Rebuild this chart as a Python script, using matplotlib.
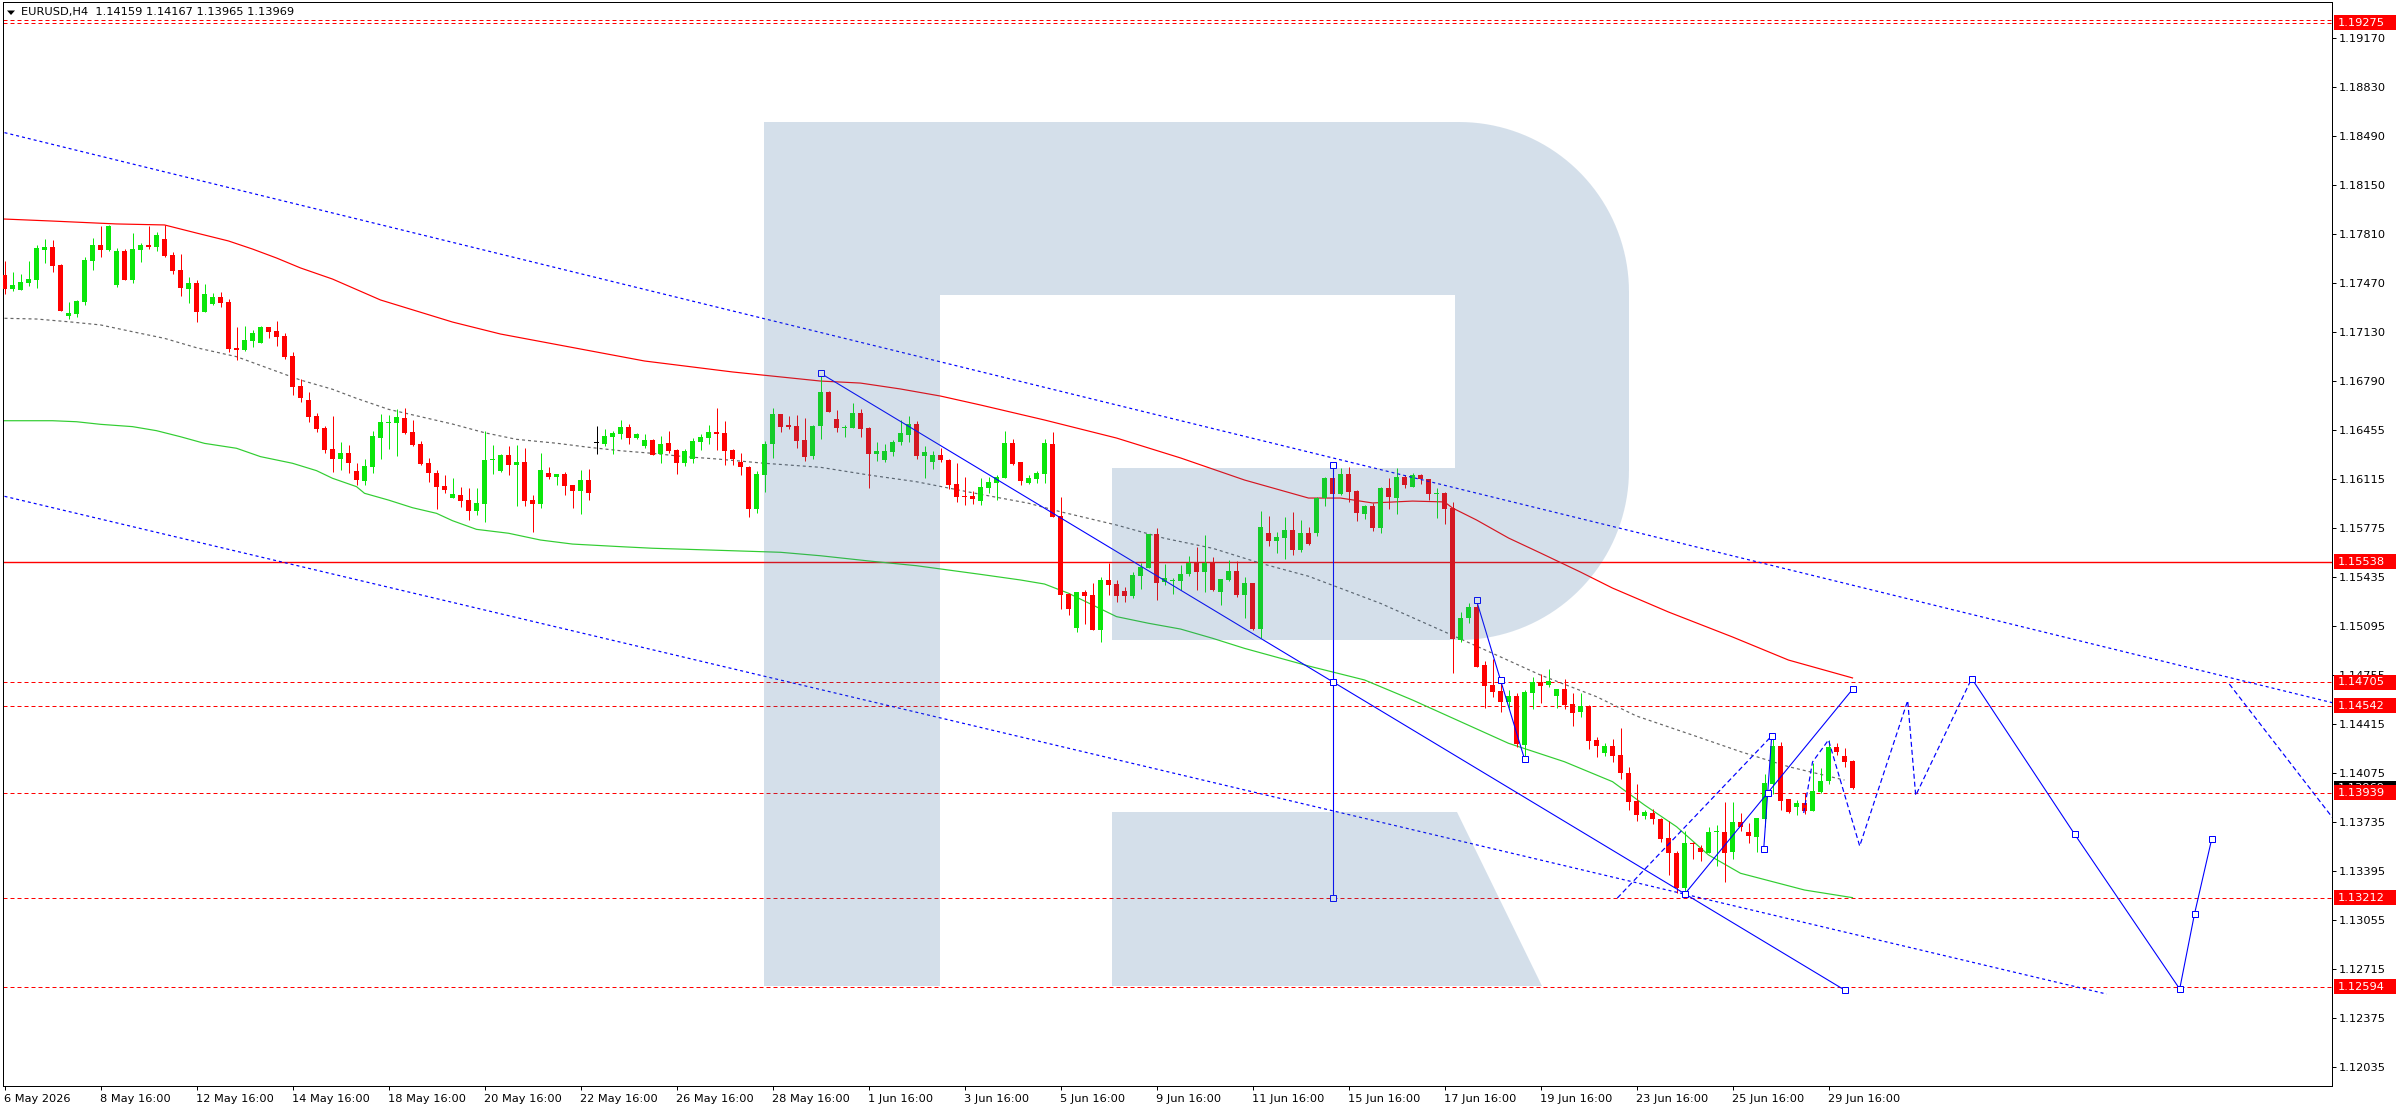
"""
EURUSD H4 chart with moving averages, channel, levels and a forecast path,
drawn in the MetaTrader look (price scale on the right, logo watermark).
"""
import matplotlib

matplotlib.use("Agg")
import matplotlib.pyplot as plt
import numpy as np
from matplotlib.patches import Polygon, Rectangle
from matplotlib.transforms import blended_transform_factory

W, H, DPI = 2396, 1110, 100
PX = 72.0 / DPI  # one pixel in points

plt.rcParams["font.family"] = ["DejaVu Sans"]
plt.rcParams["lines.scale_dashes"] = False

# ---------------------------------------------------------------- candles
opens = [
    1.17527, 1.17430, 1.17425, 1.17472, 1.17495, 1.17700, 1.17721, 1.17596, 1.17245, 1.17259,
    1.17342, 1.17624, 1.17735, 1.17700, 1.17458, 1.17693, 1.17492, 1.17700, 1.17735, 1.17721,
    1.17777, 1.17666, 1.17562, 1.17430, 1.17472, 1.17273, 1.17328, 1.17375, 1.17340, 1.17023,
    1.17010, 1.17072, 1.17058, 1.17167, 1.17139, 1.17106, 1.16968, 1.16760, 1.16661, 1.16550,
    1.16469, 1.16321, 1.16252, 1.16294, 1.16169, 1.16102, 1.16197, 1.16398, 1.16504, 1.16502,
    1.16536, 1.16439, 1.16356, 1.16224, 1.16155, 1.16065, 1.15984, 1.16003, 1.15968, 1.15894,
    1.15943, 1.16245, 1.16169, 1.16280, 1.16210, 1.16231, 1.15968, 1.15943, 1.16155, 1.16130,
    1.16148, 1.16072, 1.16032, 1.16106, 1.16363, 1.16358, 1.16407, 1.16428, 1.16474, 1.16400,
    1.16344, 1.16383, 1.16289, 1.16363, 1.16314, 1.16226, 1.16254, 1.16372, 1.16400, 1.16439,
    1.16432, 1.16316, 1.16231, 1.16198, 1.15908, 1.16143, 1.16358, 1.16564, 1.16487, 1.16480,
    1.16383, 1.16275, 1.16483, 1.16716, 1.16529, 1.16469, 1.16469, 1.16571, 1.16466, 1.16289,
    1.16247, 1.16303, 1.16372, 1.16420, 1.16494, 1.16275, 1.16233, 1.16280, 1.16245, 1.16078,
    1.15995, 1.15995, 1.15963, 1.16053, 1.16085, 1.16122, 1.16363, 1.16231, 1.16085, 1.16113,
    1.16150, 1.16356, 1.15857, 1.15316, 1.15080, 1.15330, 1.15309, 1.15066, 1.15413, 1.15385,
    1.15337, 1.15302, 1.15441, 1.15496, 1.15732, 1.15399, 1.15406, 1.15406, 1.15454, 1.15531,
    1.15468, 1.15531, 1.15330, 1.15413, 1.15475, 1.15309, 1.15392, 1.15073, 1.15739, 1.15683,
    1.15704, 1.15759, 1.15621, 1.15739, 1.15736, 1.15979, 1.16120, 1.16009, 1.16148, 1.16027,
    1.15873, 1.15926, 1.15776, 1.16050, 1.15984, 1.16125, 1.16060, 1.16141, 1.16113, 1.16011,
    1.16016, 1.15910, 1.14997, 1.15147, 1.15228, 1.14824, 1.14685, 1.14643, 1.14569, 1.14609,
    1.14269, 1.14632, 1.14703, 1.14683, 1.14611, 1.14657, 1.14553, 1.14500, 1.14539, 1.14304,
    1.14211, 1.14262, 1.14200, 1.14077, 1.13883, 1.13779, 1.13795, 1.13756, 1.13624, 1.13518,
    1.13280, 1.13592, 1.13552, 1.13522, 1.13663, 1.13666, 1.13529, 1.13733, 1.13666, 1.13633,
    1.13759, 1.14001, 1.14262, 1.13892, 1.13841, 1.13864, 1.13814, 1.13945, 1.14017, 1.14253,
    1.14193, 1.14159,
]
highs = [
    1.17624, 1.17550, 1.17534, 1.17624, 1.17735, 1.17777, 1.17770, 1.17603, 1.17342, 1.17354,
    1.17654, 1.17786, 1.17867, 1.17874, 1.17717, 1.17707, 1.17816, 1.17747, 1.17867, 1.17823,
    1.17871, 1.17687, 1.17673, 1.17511, 1.17492, 1.17465, 1.17400, 1.17409, 1.17361, 1.17169,
    1.17174, 1.17146, 1.17176, 1.17169, 1.17208, 1.17122, 1.16993, 1.16804, 1.16714, 1.16568,
    1.16481, 1.16550, 1.16370, 1.16349, 1.16224, 1.16252, 1.16446, 1.16564, 1.16557, 1.16599,
    1.16606, 1.16522, 1.16377, 1.16259, 1.16176, 1.16141, 1.16120, 1.16058, 1.16051, 1.16051,
    1.16446, 1.16349, 1.16287, 1.16342, 1.16349, 1.16328, 1.16003, 1.16294, 1.16197, 1.16148,
    1.16162, 1.16072, 1.16176, 1.16183, 1.16481, 1.16460, 1.16446, 1.16522, 1.16495, 1.16432,
    1.16425, 1.16390, 1.16411, 1.16446, 1.16321, 1.16321, 1.16397, 1.16425, 1.16487, 1.16605,
    1.16515, 1.16321, 1.16293, 1.16203, 1.16169, 1.16377, 1.16605, 1.16564, 1.16550, 1.16557,
    1.16536, 1.16487, 1.16846, 1.16723, 1.16591, 1.16487, 1.16640, 1.16598, 1.16474, 1.16370,
    1.16356, 1.16383, 1.16522, 1.16550, 1.16515, 1.16342, 1.16307, 1.16328, 1.16252, 1.16224,
    1.16127, 1.16030, 1.16120, 1.16127, 1.16141, 1.16446, 1.16390, 1.16231, 1.16141, 1.16168,
    1.16390, 1.16439, 1.15988, 1.15323, 1.15330, 1.15344, 1.15392, 1.15434, 1.15533, 1.15413,
    1.15364, 1.15468, 1.15531, 1.15732, 1.15773, 1.15524, 1.15427, 1.15517, 1.15579, 1.15642,
    1.15725, 1.15572, 1.15420, 1.15552, 1.15545, 1.15434, 1.15392, 1.15891, 1.15857, 1.15746,
    1.15850, 1.15884, 1.15829, 1.15780, 1.15991, 1.16129, 1.16210, 1.16187, 1.16194, 1.16037,
    1.15933, 1.15944, 1.16060, 1.16118, 1.16187, 1.16141, 1.16152, 1.16148, 1.16115, 1.16048,
    1.16025, 1.15956, 1.15193, 1.15251, 1.15274, 1.14849, 1.14868, 1.14724, 1.14650, 1.14627,
    1.14650, 1.14738, 1.14759, 1.14796, 1.14660, 1.14727, 1.14627, 1.14627, 1.14544, 1.14327,
    1.14281, 1.14310, 1.14389, 1.14119, 1.13996, 1.13818, 1.13825, 1.13760, 1.13742, 1.13534,
    1.13675, 1.13599, 1.13576, 1.13703, 1.13717, 1.13871, 1.13871, 1.13795, 1.13726, 1.13763,
    1.14068, 1.14336, 1.14292, 1.13894, 1.13888, 1.13934, 1.14142, 1.14109, 1.14303, 1.14280,
    1.14246, 1.14167,
]
lows = [
    1.17395, 1.17418, 1.17423, 1.17451, 1.17440, 1.17613, 1.17550, 1.17280, 1.17220, 1.17234,
    1.17319, 1.17562, 1.17654, 1.17696, 1.17446, 1.17492, 1.17474, 1.17620, 1.17707, 1.17693,
    1.17654, 1.17534, 1.17382, 1.17335, 1.17203, 1.17268, 1.17319, 1.17308, 1.16996, 1.16940,
    1.17003, 1.17030, 1.17058, 1.17088, 1.17037, 1.16947, 1.16698, 1.16649, 1.16510, 1.16437,
    1.16296, 1.16164, 1.16176, 1.16157, 1.16072, 1.16072, 1.16157, 1.16252, 1.16321, 1.16273,
    1.16425, 1.16342, 1.16210, 1.16095, 1.15908, 1.16019, 1.15984, 1.15922, 1.15829, 1.15864,
    1.15818, 1.16150, 1.16164, 1.16143, 1.15929, 1.15924, 1.15748, 1.15915, 1.16116, 1.16072,
    1.16003, 1.15915, 1.15873, 1.15970, 1.16289, 1.16344, 1.16289, 1.16393, 1.16358, 1.16393,
    1.16331, 1.16282, 1.16226, 1.16296, 1.16150, 1.16205, 1.16226, 1.16316, 1.16358, 1.16316,
    1.16212, 1.16212, 1.16143, 1.15852, 1.15880, 1.16025, 1.16261, 1.16441, 1.16462, 1.16331,
    1.16240, 1.16254, 1.16390, 1.16580, 1.16441, 1.16407, 1.16469, 1.16407, 1.16053, 1.16240,
    1.16233, 1.16275, 1.16349, 1.16372, 1.16254, 1.16122, 1.16185, 1.16233, 1.16042, 1.15956,
    1.15935, 1.15942, 1.15935, 1.16018, 1.15967, 1.16122, 1.16210, 1.16071, 1.16078, 1.16085,
    1.16085, 1.15850, 1.15212, 1.15170, 1.15052, 1.15108, 1.15066, 1.14983, 1.15309, 1.15260,
    1.15260, 1.15288, 1.15353, 1.15496, 1.15274, 1.15378, 1.15316, 1.15344, 1.15441, 1.15344,
    1.15330, 1.15337, 1.15240, 1.15406, 1.15295, 1.15149, 1.15066, 1.15010, 1.15649, 1.15602,
    1.15561, 1.15586, 1.15609, 1.15657, 1.15718, 1.15926, 1.15979, 1.16002, 1.15956, 1.15824,
    1.15833, 1.15750, 1.15736, 1.15903, 1.15868, 1.16048, 1.16055, 1.16076, 1.15967, 1.15845,
    1.15801, 1.14770, 1.14985, 1.15117, 1.14812, 1.14523, 1.14604, 1.14500, 1.14523, 1.14257,
    1.14177, 1.14516, 1.14558, 1.14673, 1.14528, 1.14516, 1.14401, 1.14465, 1.14241, 1.14183,
    1.14193, 1.14149, 1.14031, 1.13818, 1.13740, 1.13754, 1.13719, 1.13599, 1.13368, 1.13241,
    1.13241, 1.13481, 1.13467, 1.13522, 1.13432, 1.13321, 1.13481, 1.13675, 1.13592, 1.13527,
    1.13703, 1.13927, 1.13818, 1.13800, 1.13784, 1.13788, 1.13811, 1.13934, 1.13996, 1.14202,
    1.14114, 1.13965,
]
closes = [
    1.17430, 1.17458, 1.17479, 1.17499, 1.17714, 1.17721, 1.17591, 1.17280, 1.17264, 1.17347,
    1.17631, 1.17735, 1.17700, 1.17867, 1.17693, 1.17492, 1.17707, 1.17735, 1.17724, 1.17804,
    1.17661, 1.17555, 1.17440, 1.17472, 1.17273, 1.17395, 1.17375, 1.17335, 1.17016, 1.17010,
    1.17077, 1.17125, 1.17167, 1.17134, 1.17099, 1.16961, 1.16753, 1.16677, 1.16545, 1.16460,
    1.16314, 1.16252, 1.16294, 1.16227, 1.16106, 1.16204, 1.16411, 1.16508, 1.16508, 1.16543,
    1.16432, 1.16349, 1.16217, 1.16157, 1.16060, 1.16039, 1.16009, 1.15963, 1.15894, 1.15947,
    1.16245, 1.16252, 1.16280, 1.16210, 1.16231, 1.15963, 1.15943, 1.16176, 1.16130, 1.16148,
    1.16067, 1.16032, 1.16106, 1.16019, 1.16363, 1.16411, 1.16432, 1.16474, 1.16400, 1.16425,
    1.16384, 1.16282, 1.16356, 1.16309, 1.16226, 1.16307, 1.16377, 1.16404, 1.16439, 1.16427,
    1.16309, 1.16252, 1.16198, 1.15908, 1.16148, 1.16356, 1.16564, 1.16476, 1.16476, 1.16379,
    1.16268, 1.16480, 1.16716, 1.16580, 1.16469, 1.16474, 1.16571, 1.16462, 1.16289, 1.16307,
    1.16307, 1.16370, 1.16432, 1.16494, 1.16275, 1.16300, 1.16280, 1.16247, 1.16074, 1.15991,
    1.15991, 1.15977, 1.16058, 1.16092, 1.16127, 1.16363, 1.16217, 1.16099, 1.16120, 1.16155,
    1.16363, 1.15850, 1.15309, 1.15212, 1.15330, 1.15302, 1.15066, 1.15413, 1.15378, 1.15302,
    1.15302, 1.15447, 1.15503, 1.15732, 1.15392, 1.15427, 1.15413, 1.15454, 1.15531, 1.15468,
    1.15531, 1.15344, 1.15420, 1.15475, 1.15309, 1.15392, 1.15073, 1.15780, 1.15683, 1.15711,
    1.15759, 1.15621, 1.15739, 1.15662, 1.15979, 1.16120, 1.16007, 1.16148, 1.16025, 1.15875,
    1.15926, 1.15776, 1.16050, 1.15986, 1.16125, 1.16074, 1.16141, 1.16115, 1.16007, 1.16016,
    1.15907, 1.15001, 1.15147, 1.15228, 1.14812, 1.14680, 1.14639, 1.14565, 1.14609, 1.14276,
    1.14634, 1.14703, 1.14680, 1.14713, 1.14657, 1.14546, 1.14493, 1.14539, 1.14299, 1.14262,
    1.14262, 1.14195, 1.14073, 1.13876, 1.13784, 1.13807, 1.13754, 1.13620, 1.13518, 1.13280,
    1.13592, 1.13583, 1.13525, 1.13666, 1.13670, 1.13522, 1.13733, 1.13698, 1.13640, 1.13763,
    1.14005, 1.14262, 1.13883, 1.13807, 1.13864, 1.13814, 1.13950, 1.14019, 1.14253, 1.14220,
    1.14153, 1.13969,
]

# ---------------------------------------------------------- moving averages
red_ma_bars = [0, 6, 14, 20, 24, 28, 31, 34, 37, 41, 47, 56, 62, 80, 91, 102, 107, 112, 117,
               122, 130, 139, 147, 155, 163, 167, 171, 176, 180, 181, 184, 188, 192, 197, 201,
               208, 216, 223, 231]
red_ma = [1.17915, 1.17901, 1.17881, 1.17874, 1.17818, 1.17763, 1.17707, 1.17645, 1.17576,
          1.17499, 1.17354, 1.17201, 1.17118, 1.16931, 1.16855, 1.16792, 1.16778, 1.16737,
          1.16688, 1.16626, 1.16522, 1.16397, 1.16259, 1.16106, 1.15981, 1.15981, 1.15947,
          1.15960, 1.15954, 1.15912, 1.15829, 1.15704, 1.15600, 1.15468, 1.15357, 1.15191,
          1.15018, 1.14858, 1.14734]

green_ma_bars = [0, 6, 9, 12, 16, 19, 22, 25, 29, 32, 36, 39, 41, 44, 45, 48, 51, 54, 56, 59,
                 63, 67, 71, 77, 81, 88, 97, 102, 108, 114, 122, 127, 130, 133, 136, 139, 143,
                 147, 151, 155, 163, 170, 176, 182, 188, 195, 201, 205, 209, 213, 217, 221,
                 225, 231]
green_ma = [1.16517, 1.16517, 1.16510, 1.16492, 1.16476, 1.16448, 1.16406, 1.16360, 1.16326,
            1.16268, 1.16222, 1.16171, 1.16118, 1.16060, 1.16014, 1.15967, 1.15914, 1.15875,
            1.15824, 1.15764, 1.15737, 1.15690, 1.15662, 1.15644, 1.15633, 1.15621, 1.15605,
            1.15581, 1.15545, 1.15512, 1.15452, 1.15413, 1.15385, 1.15321, 1.15240, 1.15159,
            1.15113, 1.15073, 1.15009, 1.14939, 1.14817, 1.14720, 1.14581, 1.14431, 1.14281,
            1.14153, 1.14015, 1.13853, 1.13703, 1.13507, 1.13380, 1.13322, 1.13264, 1.13211]

gray_ma_bars = [0, 4, 8, 12, 16, 20, 24, 29, 33, 37, 41, 44, 48, 52, 56, 60, 64, 69, 73, 77,
                81, 85, 89, 95, 102, 108, 114, 122, 128, 132, 139, 145, 151, 157, 163, 172,
                180, 186, 192, 199, 204, 211, 217, 223, 230]
gray_ma = [1.17227, 1.17222, 1.17203, 1.17181, 1.17134, 1.17088, 1.17023, 1.16961, 1.16880,
           1.16799, 1.16735, 1.16672, 1.16596, 1.16545, 1.16494, 1.16434, 1.16388, 1.16361,
           1.16333, 1.16309, 1.16291, 1.16268, 1.16252, 1.16222, 1.16194, 1.16141, 1.16094,
           1.16007, 1.15945, 1.15886, 1.15794, 1.15702, 1.15633, 1.15529, 1.15439, 1.15251,
           1.15054, 1.14905, 1.14754, 1.14604, 1.14470, 1.14338, 1.14223, 1.14119, 1.14026]

# ------------------------------------------------------- drawn trend lines
upper_channel = ([0, 291], [1.18514, 1.14562])
lower_channel = ([0, 262.75], [1.15993, 1.12543])
fall_line = ([102, 230], [1.16846, 1.12571])
drop_vertical = ([166, 166, 166], [1.16210, 1.14705, 1.13212])
zigzag_small = ([184, 187, 190], [1.15272, 1.14720, 1.14172])
rise_line = ([210, 231], [1.13234, 1.14655])
rise_short = ([219.9, 220.4, 220.9], [1.13546, 1.13939, 1.14332])
rise_dashed = ([201.6, 220.9], [1.13208, 1.14332])
forecast_dashed = ([224.9, 226, 228, 231.9, 237.9, 238.9, 245.9],
                   [1.13798, 1.14151, 1.14304, 1.13569, 1.14577, 1.13919, 1.14730])
forecast_solid = ([245.9, 258.75, 271.9, 273.75, 275.9],
                  [1.14730, 1.13652, 1.12578, 1.13098, 1.13617])
forecast_right = ([278.1, 292], [1.14692, 1.13694])

# ------------------------------------------------------------ price levels
dotted_levels = [1.19292, 1.19275, 1.14705, 1.14542, 1.13939, 1.13212, 1.12594]
solid_level = 1.15538
label_levels = [1.19275, 1.15538, 1.14705, 1.14542, 1.13939, 1.13212, 1.12594]
last_price = 1.13969

price_ticks = [1.19170, 1.18830, 1.18490, 1.18150, 1.17810, 1.17470, 1.17130, 1.16790,
               1.16455, 1.16115, 1.15775, 1.15435, 1.15095, 1.14755, 1.14415, 1.14075,
               1.13735, 1.13395, 1.13055, 1.12715, 1.12375, 1.12035]
time_tick_bars = list(range(0, 229, 12))
time_tick_labels = ["6 May 2026", "8 May 16:00", "12 May 16:00", "14 May 16:00",
                    "18 May 16:00", "20 May 16:00", "22 May 16:00", "26 May 16:00",
                    "28 May 16:00", "1 Jun 16:00", "3 Jun 16:00", "5 Jun 16:00",
                    "9 Jun 16:00", "11 Jun 16:00", "15 Jun 16:00", "17 Jun 16:00",
                    "19 Jun 16:00", "23 Jun 16:00", "25 Jun 16:00", "29 Jun 16:00"]
header = "EURUSD,H4  1.14159 1.14167 1.13965 1.13969"

BULL, BEAR, BLUE = "#0ae60a", "#ff0000", "#0000ff"
FS = 8.2


def dash(on, off):
    return (0, (on * PX, off * PX))


fig = plt.figure(figsize=(W / DPI, H / DPI), dpi=DPI, facecolor="white")
ax = fig.add_axes([3 / W, 1 - 1086 / H, 2329 / W, 1084 / H])
ax.set_xlim(-0.1875, 290.9375)
ax.set_ylim(1.119054, 1.194195)
px_price = (1.194195 - 1.119054) / 1084

# levels
for lvl in dotted_levels:
    ax.axhline(lvl, color=BEAR, lw=PX, ls=dash(4, 3), zorder=2)
ax.axhline(solid_level, color=BEAR, lw=1.4 * PX, zorder=2)

# moving averages
ax.plot(red_ma_bars, red_ma, color="#ff0000", lw=1.2 * PX, zorder=2)
ax.plot(green_ma_bars, green_ma, color="#32cd32", lw=1.2 * PX, zorder=2)
ax.plot(gray_ma_bars, gray_ma, color="#666666", lw=1.2 * PX, ls=dash(3, 3), zorder=2)

# candles
o, h, l, c = (np.array(v) for v in (opens, highs, lows, closes))
bars = np.arange(len(o))
cols = np.where(c > o, BULL, np.where(c < o, BEAR, "#000000"))
ax.vlines(bars, l, h, colors=cols, lw=PX, zorder=3)
body = np.maximum(np.abs(c - o), px_price)
ax.bar(bars, body, bottom=np.minimum(o, c), width=0.625, color=cols, lw=0, zorder=3)

# channel and analysis lines
for xs, ys in (upper_channel, lower_channel):
    ax.plot(xs, ys, color=BLUE, lw=1.2 * PX, ls=dash(3, 3), zorder=4)
for xs, ys in (rise_dashed, forecast_dashed, forecast_right):
    ax.plot(xs, ys, color=BLUE, lw=1.2 * PX, ls=dash(5, 3), zorder=4)
mk = dict(marker="s", ms=4.0, mfc="white", mec=BLUE, mew=PX)
for xs, ys in (fall_line, drop_vertical, zigzag_small, rise_line, rise_short, forecast_solid):
    ax.plot(xs, ys, color=BLUE, lw=1.1 * PX, zorder=4, **mk)

# watermark logo, laid over everything inside the plot with a light tint
def to_fig(points):
    return [(x / W, 1 - y / H) for x, y in points]


def arc(cx, cy, r, a0, a1, n=40):
    t = np.radians(np.linspace(a0, a1, n))
    return list(zip(cx + r * np.cos(t), cy + r * np.sin(t)))


outline = ([(764, 122), (1459, 122)] + arc(1459, 292, 170, -90, 0) + [(1629, 470)]
           + arc(1459, 470, 170, 0, 90)
           + [(1112, 640), (1112, 468), (1455, 468), (1455, 295), (940, 295), (940, 986),
              (764, 986)])
leg = [(1112, 812), (1457, 812), (1542, 986), (1112, 986)]
for shape in (outline, leg):
    ax.add_patch(Polygon(to_fig(shape), closed=True, transform=fig.transFigure,
                         facecolor="#3c6fa2", alpha=0.216, lw=0, zorder=5))

# axes frame and scales
for sp in ax.spines.values():
    sp.set_linewidth(PX)
    sp.set_color("black")
ax.set_yticks(price_ticks)
ax.set_yticklabels([f"{p:.5f}" for p in price_ticks])
ax.yaxis.tick_right()
ax.tick_params(axis="y", direction="out", length=3, width=PX, pad=2, labelsize=FS)
ax.set_xticks(time_tick_bars)
ax.set_xticklabels(time_tick_labels, ha="left")
ax.tick_params(axis="x", direction="out", length=3, width=PX, pad=3, labelsize=FS)

# price labels on the scale; each box and its text stacked above the previous one
blend = blended_transform_factory(fig.transFigure, ax.transData)
half = 7.5 * px_price


def price_box(value, face, z):
    fig.add_artist(Rectangle((2334 / W, value - half), 62 / W, 2 * half, transform=blend,
                             facecolor=face, lw=0, zorder=z))
    fig.text(2338 / W, value, f"{value:.5f}", transform=blend, color="white",
             fontsize=FS, va="center", ha="left", zorder=z + 0.05)


price_box(last_price, "black", 2.0)
for k, lvl in enumerate(label_levels):
    price_box(lvl, BEAR, 2.1 + 0.1 * k)

# header
fig.add_artist(Polygon(to_fig([(7, 10.5), (15, 10.5), (11, 15)]), closed=True,
                       transform=fig.transFigure, facecolor="black", lw=0))
fig.text(21 / W, 1 - 12.5 / H, header, fontsize=FS, va="center", ha="left")

fig.savefig("out.png", dpi=DPI, facecolor="white")
